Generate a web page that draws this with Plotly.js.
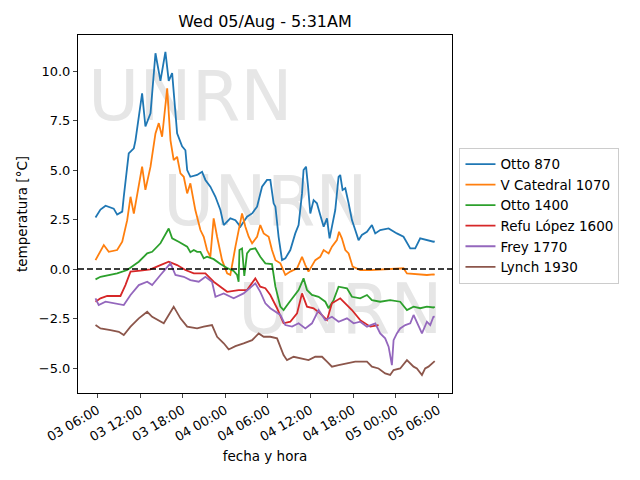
<!DOCTYPE html>
<html>
<head>
<meta charset="utf-8">
<script src="https://cdn.plot.ly/plotly-3.0.1.min.js"></script>
<style>body{margin:0}</style>
</head>
<body>
<div id="myDiv"></div>
<script>
// station names
let names = ['Otto 870', 'V Catedral 1070', 'Otto 1400', 'Refu López 1600', 'Frey 1770', 'Lynch 1930']
let colors = ['#1f77b4', '#ff7f0e', '#2ca02c', '#d62728', '#9467bd', '#8c564b']

// times as "day hh:mm" (August 2020) and temperatures in ºC
let tOtto870 = ['03 05:43','03 06:25','03 07:08','03 07:50','03 08:17','03 08:46','03 09:29','03 09:42','03 10:24','03 11:07','03 11:21','03 12:17','03 12:45','03 13:28','03 14:10','03 14:52','03 15:34','03 16:02','03 16:31','03 17:13','03 17:55','03 18:23','03 18:38','03 19:05','03 20:02','03 20:44','03 21:12','03 21:54','03 22:37','03 23:19','03 23:47','04 00:43','04 01:26','04 02:08','04 03:04','04 03:47','04 04:29','04 05:11','04 05:53','04 06:21','04 06:49','04 07:04','04 07:31','04 08:00','04 08:28','04 09:10','04 09:52','04 10:20','04 10:49','04 11:02','04 11:23','04 11:40','04 11:59','04 12:27','04 12:55','04 13:23','04 13:52','04 14:20','04 14:42','04 15:02','04 15:30','04 15:58','04 16:12','04 16:32','04 16:55','04 17:23','04 17:51','04 18:19','04 18:47','04 19:15','04 19:58','04 20:40','04 21:08','04 21:50','04 23:01','05 00:11','05 01:07','05 02:04','05 02:46','05 03:28','05 04:25','05 05:20','05 05:31']
let vOtto870 = [2.6,3.0,3.2,3.1,3.05,2.75,2.9,3.65,5.84,6.1,6.5,8.87,7.2,7.86,10.9,9.5,10.97,9.5,9.9,6.85,6.2,6.0,5.0,4.66,4.75,4.91,4.5,4.16,3.65,2.98,2.22,2.56,2.47,2.14,2.64,2.81,3.15,4.16,4.5,4.5,3.32,3.15,1.63,0.45,0.54,0.96,1.8,2.22,3.82,5.0,5.17,4.16,2.81,3.48,3.32,2.73,2.14,2.56,1.55,2.14,2.98,4.66,4.75,3.99,4.08,3.32,2.47,1.97,1.46,1.72,1.88,2.22,1.8,1.97,2.05,1.8,1.63,1.04,1.04,1.55,1.46,1.38,1.4]

let tCatedral = ['03 05:43','03 06:53','03 07:35','03 08:46','03 09:29','03 10:11','03 10:39','03 11:07','03 12:17','03 12:45','03 13:28','03 14:10','03 14:38','03 15:06','03 15:49','03 16:17','03 16:44','03 17:13','03 17:41','03 18:09','03 18:38','03 19:05','03 19:47','03 20:30','03 20:58','03 21:26','03 21:54','03 22:22','03 22:51','03 23:33','04 00:16','04 00:43','04 01:26','04 02:22','04 02:50','04 03:18','04 03:47','04 04:29','04 04:56','04 05:25','04 06:07','04 06:35','04 07:04','04 07:46','04 08:28','04 09:10','04 10:07','04 10:49','04 11:17','04 11:44','04 12:41','04 13:23','04 13:52','04 14:34','04 15:02','04 15:44','04 16:02','04 16:26','04 16:55','04 17:23','04 17:57','04 19:01','04 20:26','04 22:18','05 00:11','05 01:07','05 01:36','05 03:28','05 04:25','05 05:20','05 05:31']
let vCatedral = [0.45,1.21,0.87,0.96,1.38,2.47,3.65,2.8,5.17,4.0,5.17,6.85,7.37,6.68,9.13,6.5,5.5,5.67,4.83,4.66,3.82,4.33,2.98,1.97,1.63,0.96,0.62,2.56,1.63,0.45,-0.22,-0.3,1.13,2.81,2.14,1.63,1.3,1.63,2.22,1.8,1.63,0.96,0.45,0.29,-0.3,-0.13,0.04,0.62,0.2,-0.13,0.45,0.62,0.96,0.79,1.13,1.46,1.88,1.55,0.96,0.79,0.12,-0.05,-0.05,0.0,0.03,0.04,-0.22,-0.25,-0.3,-0.27,-0.28]

let tOtto1400 = ['03 05:43','03 06:25','03 08:46','03 10:11','03 11:49','03 13:00','03 13:42','03 14:52','03 16:02','03 16:31','03 17:26','03 18:09','03 18:38','03 19:05','03 19:34','03 20:02','03 20:30','03 20:58','03 21:26','03 22:22','03 23:19','04 00:16','04 01:11','04 01:40','04 01:53','04 02:00','04 02:22','04 02:41','04 03:04','04 03:32','04 04:14','04 04:56','04 05:39','04 06:35','04 07:04','04 07:46','04 08:13','04 08:55','04 09:38','04 10:20','04 11:02','04 11:31','04 12:13','04 13:09','04 14:06','04 14:34','04 15:16','04 15:58','04 17:09','04 17:51','04 19:01','04 19:58','04 20:40','04 21:50','04 23:14','05 00:39','05 01:36','05 02:32','05 03:28','05 04:25','05 05:20','05 05:31']
let vOtto1400 = [-0.52,-0.39,-0.22,-0.05,0.37,0.79,0.87,1.3,2.05,1.55,1.38,1.21,1.13,0.85,0.96,0.87,0.87,0.54,0.62,0.5,0.25,0.05,-0.1,-0.3,-0.64,0.96,1.04,-0.35,0.79,1.0,1.05,0.62,0.29,0.25,-0.89,-1.9,-2.07,-1.73,-1.4,-1.06,-0.47,-1.06,-1.31,-1.4,-1.65,-1.98,-1.57,-0.89,-0.97,-1.4,-1.48,-1.31,-1.57,-1.65,-1.57,-1.65,-2.07,-1.9,-1.98,-1.9,-1.94,-1.9]

let tRefu = ['03 05:43','03 06:25','03 07:22','03 09:14','03 09:56','03 10:39','03 12:03','03 13:28','03 14:52','03 16:02','03 17:13','03 18:23','03 19:34','03 21:12','03 22:22','04 00:16','04 01:53','04 03:04','04 04:14','04 04:56','04 05:39','04 06:21','04 07:18','04 08:13','04 09:10','04 10:07','04 10:49','04 11:31','04 12:27','04 13:23','04 14:20','04 15:02','04 16:12','04 16:55','04 17:51','04 19:01','04 20:26','04 21:36']
let vRefu = [-1.65,-1.48,-1.36,-1.36,-0.81,-0.13,-0.08,-0.02,0.2,0.37,0.2,-0.05,-0.22,-0.22,-0.64,-1.15,-1.06,-1.06,-0.47,-0.89,-0.97,-1.31,-1.98,-2.74,-2.66,-2.24,-1.23,-1.9,-1.98,-2.24,-2.58,-1.73,-1.48,-1.73,-2.07,-2.58,-2.91,-2.83]

let tFrey = ['03 05:43','03 06:10','03 07:08','03 08:17','03 09:42','03 10:39','03 11:49','03 13:00','03 13:42','03 14:52','03 16:17','03 16:59','03 18:09','03 19:05','03 20:16','03 21:12','03 22:08','03 22:37','03 23:47','04 01:11','04 02:35','04 04:14','04 04:56','04 05:39','04 06:21','04 07:46','04 08:28','04 09:25','04 10:20','04 11:17','04 12:13','04 13:09','04 14:06','04 15:02','04 15:58','04 17:09','04 18:05','04 19:01','04 19:58','04 21:08','04 21:50','04 22:32','04 23:01','04 23:29','04 23:43','05 00:11','05 00:39','05 01:22','05 02:04','05 02:32','05 03:00','05 03:43','05 04:25','05 04:53','05 05:20','05 05:31']
let vFrey = [-1.48,-1.82,-1.65,-1.73,-1.82,-1.31,-0.81,-0.64,-0.81,-0.3,0.29,-0.3,-0.39,-0.56,-0.64,-0.39,-0.64,-1.4,-1.23,-1.48,-1.23,-0.72,-1.15,-1.73,-1.98,-2.32,-2.83,-2.91,-2.74,-3.0,-2.74,-2.07,-2.58,-2.41,-2.66,-2.49,-2.74,-2.66,-2.91,-2.74,-3.25,-3.5,-3.92,-4.85,-3.59,-3.25,-3.0,-2.83,-2.74,-2.32,-2.66,-3.25,-2.66,-2.83,-2.41,-2.4]

let tLynch = ['03 05:43','03 06:25','03 07:50','03 09:00','03 09:42','03 10:39','03 11:49','03 13:00','03 13:42','03 14:38','03 15:20','03 16:44','03 17:41','03 18:38','03 20:02','03 20:58','03 22:08','03 22:51','03 23:47','04 00:29','04 01:26','04 02:35','04 03:47','04 04:43','04 05:25','04 06:21','04 07:18','04 08:13','04 08:42','04 09:38','04 10:49','04 11:44','04 12:41','04 13:38','04 14:20','04 15:02','04 15:58','04 17:09','04 18:19','04 19:58','04 20:40','04 21:36','04 22:32','04 23:14','04 23:43','05 00:39','05 01:36','05 02:32','05 03:00','05 03:43','05 04:10','05 04:38','05 05:20','05 05:31']
let vLynch = [-2.83,-3.0,-3.08,-3.17,-3.33,-2.91,-2.49,-2.16,-2.41,-2.58,-2.74,-1.9,-2.49,-2.91,-3.0,-2.91,-2.83,-3.42,-3.75,-4.06,-3.89,-3.75,-3.59,-3.25,-3.42,-3.42,-3.5,-4.34,-4.6,-4.43,-4.51,-4.6,-4.43,-4.43,-4.68,-4.93,-4.85,-4.76,-4.68,-4.68,-4.93,-5.02,-5.27,-5.35,-5.1,-5.02,-4.6,-4.93,-5.02,-5.35,-5.02,-4.93,-4.68,-4.65]

// watermark text and where it goes
let markText = 'UNRN'
let markX = ['03 19:05', '04 05:39', '04 16:12']
let markY = [8.43, 3.13, -2.37]

// "03 05:43" -> "2020-08-03 05:43"
function toDate (s) {
  return '2020-08-' + s
}

let times = [tOtto870, tCatedral, tOtto1400, tRefu, tFrey, tLynch]
let values = [vOtto870, vCatedral, vOtto1400, vRefu, vFrey, vLynch]

let font = 'DejaVu Sans, sans-serif'

// watermark first so the lines go on top
let traces = [{
  x: markX.map(toDate),
  y: markY,
  mode: 'text',
  type: 'scatter',
  text: markX.map(() => markText),
  textfont: {family: font, size: 70, color: '#e6e6e6'},
  showlegend: false,
  hoverinfo: 'skip'
}]

for (let i = 0; i < names.length; i ++) {
  traces.push({
    x: times[i].map(toDate),
    y: values[i],
    name: names[i],
    mode: 'lines',
    type: 'scatter',
    line: {color: colors[i], width: 1.8}
  })
}

let layout = {
  width: 640,
  height: 480,
  paper_bgcolor: 'white',
  plot_bgcolor: 'white',
  font: {family: font, size: 13, color: 'black'},
  margin: {l: 78, r: 188, t: 35, b: 87},
  title: {text: 'Wed 05/Aug - 5:31AM', font: {size: 16, family: font}, x: 0.414, xanchor: 'center', y: 0.956, yanchor: 'middle'},
  xaxis: {
    type: 'date',
    range: ['2020-08-03 03:15', '2020-08-05 07:57'],
    tick0: '2020-08-03 00:00',
    dtick: 6 * 3600 * 1000,
    tickformat: '%d %H:%M',
    tickangle: -30,
    ticks: 'outside',
    ticklen: 4,
    tickwidth: 1,
    showgrid: false,
    zeroline: false,
    showline: true,
    mirror: true,
    linecolor: 'black',
    linewidth: 1,
    title: {text: 'fecha y hora', standoff: 8, font: {size: 13.5}}
  },
  yaxis: {
    range: [-6.26, 11.82],
    tick0: 0,
    dtick: 2.5,
    tickformat: '.1f',
    ticks: 'outside',
    ticklen: 4,
    tickwidth: 1,
    showgrid: false,
    zeroline: false,
    showline: true,
    mirror: true,
    linecolor: 'black',
    linewidth: 1,
    title: {text: 'temperatura [°C]', standoff: 8, font: {size: 13.5}}
  },
  shapes: [{
    type: 'line', xref: 'paper', yref: 'y',
    x0: 0, x1: 1, y0: 0, y1: 0,
    line: {color: 'black', width: 1.6, dash: '6px,3px'}
  }],
  legend: {
    x: 1.02, y: 0.685, xanchor: 'left', yanchor: 'top',
    bordercolor: '#cccccc', borderwidth: 1, bgcolor: 'white',
    itemwidth: 30,
    font: {size: 13.5}
  },
  showlegend: true
}

Plotly.newPlot('myDiv', traces, layout, {displayModeBar: false, staticPlot: true})
</script>
</body>
</html>
